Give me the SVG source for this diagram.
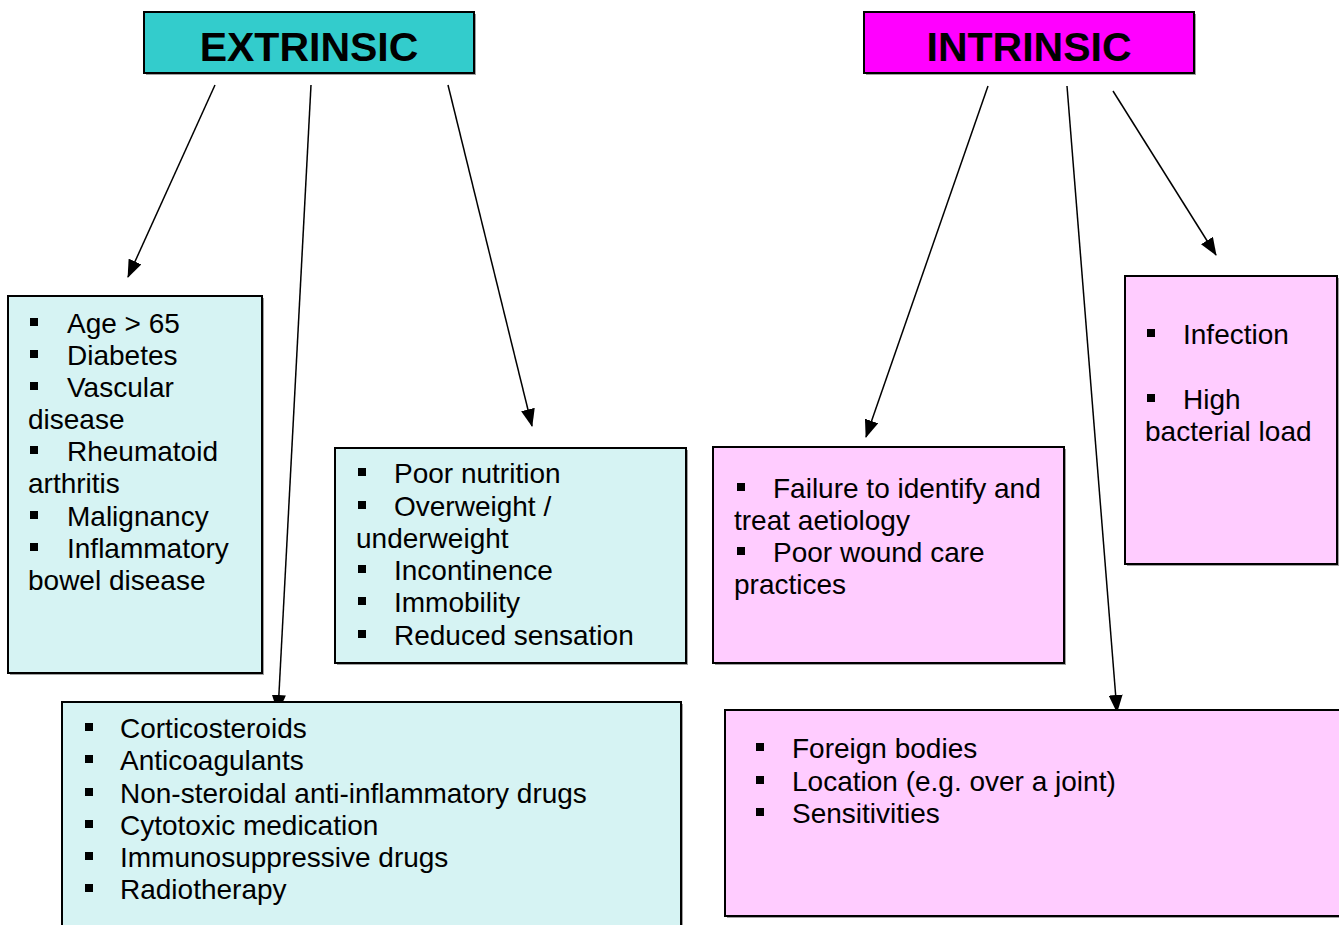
<svg xmlns="http://www.w3.org/2000/svg" width="1339" height="925" viewBox="0 0 1339 925">
<defs>
<marker id="ah" viewBox="0 0 18 14" refX="17" refY="7" markerWidth="18" markerHeight="14" markerUnits="userSpaceOnUse" orient="auto">
<path d="M0,0 L18,7 L0,14 z" fill="#000"/>
</marker>
</defs>
<style>
.t{font-family:"Liberation Sans",Arial,sans-serif;font-size:28px;fill:#000}
.h{font-family:"Liberation Sans",Arial,sans-serif;font-size:41px;font-weight:bold;fill:#000}
.cy{fill:#D6F3F3;stroke:#000;stroke-width:2}
.pk{fill:#FFCCFF;stroke:#000;stroke-width:2}
.sh{fill:#A0A0A0}
.b{fill:#000}
.c{stroke:#000;stroke-width:1.5;fill:none;marker-end:url(#ah)}
</style>
<rect width="1339" height="925" fill="#fff"/>

<g id="extrinsic">
<rect class="sh" x="146" y="14" width="330" height="61"/>
<rect x="144" y="12" width="330" height="61" fill="#33CCCC" stroke="#000" stroke-width="2"/>
<text class="h" x="309" y="61" text-anchor="middle">EXTRINSIC</text>
</g>

<g id="intrinsic">
<rect class="sh" x="866" y="14" width="330" height="61"/>
<rect x="864" y="12" width="330" height="61" fill="#FF00FF" stroke="#000" stroke-width="2"/>
<text class="h" x="1029" y="61" text-anchor="middle">INTRINSIC</text>
</g>

<g id="connectors">
<line class="c" x1="215" y1="85" x2="128" y2="277"/>
<line class="c" x1="311" y1="85" x2="278" y2="712"/>
<line class="c" x1="448" y1="85" x2="532" y2="426"/>
<line class="c" x1="988" y1="86" x2="866" y2="437"/>
<line class="c" x1="1067" y1="86" x2="1117" y2="712"/>
<line class="c" x1="1113" y1="91" x2="1216" y2="255"/>
</g>

<g id="box-patient">
<rect class="sh" x="10" y="298" width="254" height="377"/>
<rect class="cy" x="8" y="296" width="254" height="377"/>
<rect class="b" x="30" y="318" width="8" height="8"/><text class="t" x="67" y="333">Age &gt; 65</text>
<rect class="b" x="30" y="350" width="8" height="8"/><text class="t" x="67" y="365">Diabetes</text>
<rect class="b" x="30" y="382" width="8" height="8"/><text class="t" x="67" y="397">Vascular</text>
<text class="t" x="28" y="429">disease</text>
<rect class="b" x="30" y="446" width="8" height="8"/><text class="t" x="67" y="461">Rheumatoid</text>
<text class="t" x="28" y="493">arthritis</text>
<rect class="b" x="30" y="511" width="8" height="8"/><text class="t" x="67" y="526">Malignancy</text>
<rect class="b" x="30" y="543" width="8" height="8"/><text class="t" x="67" y="558">Inflammatory</text>
<text class="t" x="28" y="590">bowel disease</text>
</g>

<g id="box-lifestyle">
<rect class="sh" x="337" y="450" width="351" height="215"/>
<rect class="cy" x="335" y="448" width="351" height="215"/>
<rect class="b" x="358" y="468" width="8" height="8"/><text class="t" x="394" y="483">Poor nutrition</text>
<rect class="b" x="358" y="501" width="8" height="8"/><text class="t" x="394" y="516">Overweight /</text>
<text class="t" x="356" y="548">underweight</text>
<rect class="b" x="358" y="565" width="8" height="8"/><text class="t" x="394" y="580">Incontinence</text>
<rect class="b" x="358" y="597" width="8" height="8"/><text class="t" x="394" y="612">Immobility</text>
<rect class="b" x="358" y="630" width="8" height="8"/><text class="t" x="394" y="645">Reduced sensation</text>
</g>

<g id="box-drugs">
<rect class="sh" x="64" y="704" width="619" height="230"/>
<rect class="cy" x="62" y="702" width="619" height="230"/>
<rect class="b" x="85" y="723" width="8" height="8"/><text class="t" x="120" y="738">Corticosteroids</text>
<rect class="b" x="85" y="755" width="8" height="8"/><text class="t" x="120" y="770">Anticoagulants</text>
<rect class="b" x="85" y="788" width="8" height="8"/><text class="t" x="120" y="803">Non-steroidal anti-inflammatory drugs</text>
<rect class="b" x="85" y="820" width="8" height="8"/><text class="t" x="120" y="835">Cytotoxic medication</text>
<rect class="b" x="85" y="852" width="8" height="8"/><text class="t" x="120" y="867">Immunosuppressive drugs</text>
<rect class="b" x="85" y="884" width="8" height="8"/><text class="t" x="120" y="899">Radiotherapy</text>
</g>

<g id="box-care">
<rect class="sh" x="715" y="449" width="351" height="216"/>
<rect class="pk" x="713" y="447" width="351" height="216"/>
<rect class="b" x="737" y="483" width="8" height="8"/><text class="t" x="773" y="498">Failure to identify and</text>
<text class="t" x="734" y="530">treat aetiology</text>
<rect class="b" x="737" y="547" width="8" height="8"/><text class="t" x="773" y="562">Poor wound care</text>
<text class="t" x="734" y="594">practices</text>
</g>

<g id="box-infection">
<rect class="sh" x="1127" y="278" width="212" height="288"/>
<rect class="pk" x="1125" y="276" width="212" height="288"/>
<rect class="b" x="1147" y="329" width="8" height="8"/><text class="t" x="1183" y="344">Infection</text>
<rect class="b" x="1147" y="394" width="8" height="8"/><text class="t" x="1183" y="409">High</text>
<text class="t" x="1145" y="441">bacterial load</text>
</g>

<g id="box-local">
<rect class="sh" x="727" y="712" width="620" height="206"/>
<rect class="pk" x="725" y="710" width="620" height="206"/>
<rect class="b" x="756" y="743" width="8" height="8"/><text class="t" x="792" y="758">Foreign bodies</text>
<rect class="b" x="756" y="776" width="8" height="8"/><text class="t" x="792" y="791">Location (e.g. over a joint)</text>
<rect class="b" x="756" y="808" width="8" height="8"/><text class="t" x="792" y="823">Sensitivities</text>
</g>
</svg>
